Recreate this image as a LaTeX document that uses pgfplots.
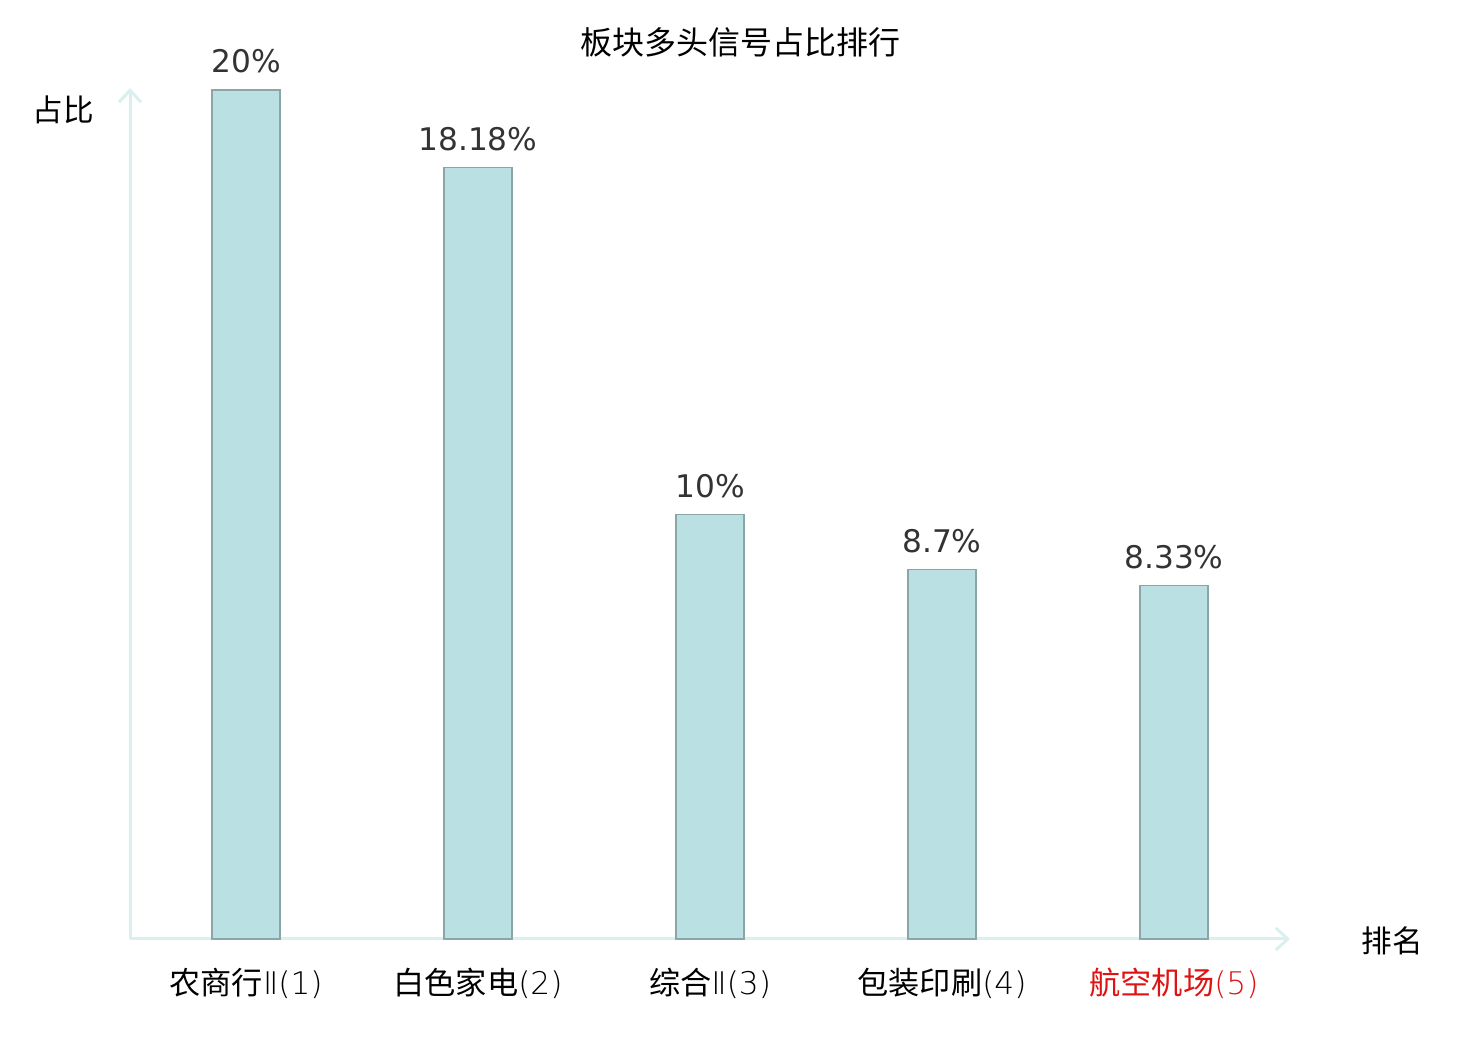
\documentclass[border=0pt]{standalone}
\usepackage{pgfplots}
\pgfplotsset{compat=1.18}
\usepackage{fontspec}
\setmainfont{Noto Sans CJK SC}
\newfontfamily\dejavu{DejaVu Sans}
\newfontfamily\djl{DejaVu Sans ExtraLight}
\usetikzlibrary{arrows.meta}
\definecolor{axiscol}{RGB}{218,240,238}
\definecolor{barfill}{RGB}{186,224,227}
\definecolor{baredge}{RGB}{138,166,166}
\definecolor{valcol}{RGB}{51,51,51}
\definecolor{redlab}{RGB}{222,20,20}
\begin{document}
\begin{tikzpicture}
\path (0,0) rectangle (740pt,520pt);
\begin{axis}[
  at={(65pt,50.5pt)}, anchor=south west,
  scale only axis, width=580pt, height=425.5pt,
  xmin=-0.5, xmax=4.5, ymin=0, ymax=20.05,
  clip=false,
  axis lines=left,
  axis line style={draw=axiscol, line width=1.5pt, -{Straight Barb[length=6pt,width=11pt,line width=1.5pt]}},
  ytick=\empty,
  xtick={0,1,2,3,4},
  xticklabels={农商行{\djl Ⅱ(1)},白色家电{\djl (2)},综合{\djl Ⅱ(3)},包装印刷{\djl (4)},{\color{redlab}航空机场{\djl (5)}}},
  major tick length=0pt,
  xticklabel style={font=\fontsize{15.6}{18}\selectfont, anchor=north, inner sep=0pt, yshift=-14.5pt},
  /pgf/number format/assume math mode=true,
  ybar, bar width=34pt,
  nodes near coords={\pgfmathprintnumber{\pgfplotspointmeta}\%},
  nodes near coords style={font=\dejavu\fontsize{15.6}{18}\selectfont, color=valcol, anchor=south, inner sep=0pt, yshift=8pt},
]
\addplot[fill=barfill, draw=baredge, line width=0.75pt] coordinates {(0,20) (1,18.18) (2,10) (3,8.7) (4,8.33)};
\end{axis}
\node[font=\fontsize{16}{19}\selectfont] at (370pt,499pt) {板块多头信号占比排行};
\node[font=\fontsize{15.3}{18}\selectfont] at (31.5pt,465pt) {占比};
\node[font=\fontsize{15.3}{18}\selectfont] at (696pt,49.5pt) {排名};
\end{tikzpicture}
\end{document}
